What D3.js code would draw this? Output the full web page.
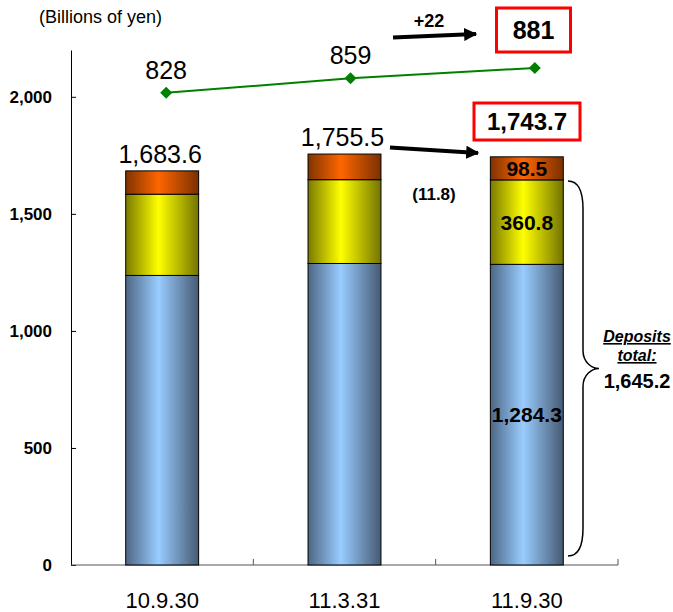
<!DOCTYPE html>
<html><head><meta charset="utf-8">
<script src="https://cdn.jsdelivr.net/npm/d3@7"></script>
<style>body{margin:0;background:#fff;font-family:"Liberation Sans",Arial,sans-serif;}</style>
</head><body>
<svg id="c" width="673" height="612"></svg>
<script>
const categories = ["10.9.30", "11.3.31", "11.9.30"];
const loans      = [1237.0, 1288.0, 1284.3];
const securities = [347.0, 358.0, 360.8];
const others     = [99.6, 109.5, 98.5];
const totals     = ["1,683.6", "1,755.5", "1,743.7"];
const headcount  = [828, 859, 881];
const yTicks     = [0, 500, 1000, 1500, 2000];

(function(){
const svg = d3.select("#c");
const m = {left: 71, top: 50};
const x = d3.scaleBand().domain(categories).range([m.left, 618]).paddingInner(0.6).paddingOuter(0.3);
const y = d3.scaleLinear().domain([0, 2200]).range([565, m.top]);
const y2 = d3.scaleLinear().domain([700, 1000]).range([153, 12]);
const x2 = d3.scalePoint().domain(categories).range([x(categories[0]) + x.bandwidth()/2 + 4, x(categories[2]) + x.bandwidth()/2 + 8]);

// gradients
const defs = svg.append("defs");
function grad(id, edgeL, mid, edgeR){
  const g = defs.append("linearGradient").attr("id", id).attr("x1","0%").attr("x2","100%").attr("y1","0%").attr("y2","0%");
  g.append("stop").attr("offset","0%").attr("stop-color", edgeL);
  g.append("stop").attr("offset","45%").attr("stop-color", mid);
  g.append("stop").attr("offset","100%").attr("stop-color", edgeR);
}
grad("gBlue", "#4d6785", "#99ccff", "#465a73");
grad("gYel", "#7a7a00", "#ffff00", "#737300");
grad("gOra", "#803300", "#ff6600", "#7a3000");
defs.append("marker").attr("id","arr").attr("viewBox","0 0 10 10").attr("refX",9).attr("refY",5)
  .attr("markerWidth",3.3).attr("markerHeight",3.3).attr("orient","auto")
  .append("path").attr("d","M0,0L10,5L0,10z").attr("fill","#000");

// Y axis
const yAxis = d3.axisLeft(y).tickValues(yTicks).tickSizeInner(-5).tickSizeOuter(0).tickPadding(19)
  .tickFormat(d3.format(","));
const ga = svg.append("g").attr("transform", `translate(${m.left},0)`).call(yAxis);
ga.select(".domain").attr("stroke","#000");
ga.selectAll(".tick line").attr("stroke","#000");
ga.selectAll("text").attr("font-family","Liberation Sans, Arial").attr("font-size",17).attr("font-weight","bold").attr("fill","#000");

// X baseline with boundary ticks
const xBase = svg.append("g");
xBase.append("line").attr("x1", m.left).attr("x2", 618).attr("y1", y(0)).attr("y2", y(0)).attr("stroke","#555").attr("stroke-width",1.2);
const bounds = d3.range(categories.length + 1).map(i => m.left + i * (618 - m.left) / categories.length);
xBase.selectAll("line.tk").data(bounds.slice(1)).join("line").attr("class","tk")
  .attr("x1", d => d).attr("x2", d => d).attr("y1", y(0)).attr("y2", y(0) - 6).attr("stroke","#555");
const xAxis = d3.axisBottom(x).tickSize(0).tickPadding(27);
const gx = svg.append("g").attr("transform", `translate(0,${y(0)})`).call(xAxis);
gx.select(".domain").remove();
gx.selectAll("text").attr("font-family","Liberation Sans, Arial").attr("font-size",22).attr("fill","#000");

// stacked bars
const series = [
  {key:"loans", vals: loans, fill:"url(#gBlue)"},
  {key:"sec", vals: securities, fill:"url(#gYel)"},
  {key:"oth", vals: others, fill:"url(#gOra)"}
];
categories.forEach((c, i) => {
  let base = 0;
  series.forEach(s => {
    const v = s.vals[i];
    svg.append("rect").attr("x", x(c)).attr("width", x.bandwidth())
      .attr("y", y(base + v)).attr("height", y(base) - y(base + v))
      .attr("fill", s.fill).attr("stroke", "#000").attr("stroke-width", 1);
    if (i === 2) {
      svg.append("text").attr("x", x(c) + x.bandwidth()/2).attr("y", (y(base) + y(base+v))/2)
        .attr("dy", "0.36em").attr("text-anchor","middle").attr("font-size",21).attr("font-weight","bold")
        .text(d3.format(",.1f")(v));
    }
    base += v;
  });
  if (i < 2) {
    svg.append("text").attr("x", x(c) + x.bandwidth()/2 - 2).attr("y", y(base) - 8)
      .attr("text-anchor","middle").attr("font-size",25).text(totals[i]);
  }
});

// green line
const line = d3.line().x((d,i) => x2(categories[i])).y(d => y2(d));
svg.append("path").datum(headcount).attr("d", line).attr("fill","none").attr("stroke","#008000").attr("stroke-width",2);
svg.selectAll("path.dm").data(headcount).join("path").attr("class","dm")
  .attr("d", d3.symbol().type(d3.symbolSquare).size(72))
  .attr("transform", (d,i) => `translate(${x2(categories[i])},${y2(d)}) rotate(45)`)
  .attr("fill","#008000");
headcount.slice(0,2).forEach((d,i) => {
  svg.append("text").attr("x", x2(categories[i])).attr("y", y2(d) - 14)
    .attr("text-anchor","middle").attr("font-size",25).text(d);
});

// title
svg.append("text").attr("x", 39).attr("y", 23).attr("font-size",18).text("(Billions of yen)");

// boxed highlights
function box(cx, cy, w, h, txt, fs){
  svg.append("rect").attr("x", cx - w/2).attr("y", cy - h/2).attr("width", w).attr("height", h)
    .attr("fill","#fff").attr("stroke","#ff0000").attr("stroke-width",3);
  svg.append("text").attr("x", cx).attr("y", cy).attr("dy","0.36em").attr("text-anchor","middle")
    .attr("font-size", fs).attr("font-weight","bold").text(txt);
}
box(533.5, 30, 74, 44, String(headcount[2]), 25);
box(527, 121.5, 106, 37, totals[2], 24);

// arrows
svg.append("line").attr("x1",393).attr("y1",37.5).attr("x2",476).attr("y2",34).attr("stroke","#000").attr("stroke-width",4).attr("marker-end","url(#arr)");
svg.append("text").attr("x",429).attr("y",27).attr("text-anchor","middle").attr("font-size",18).attr("font-weight","bold").text("+" + (headcount[2]-headcount[1]));
svg.append("line").attr("x1",390).attr("y1",147.5).attr("x2",478).attr("y2",153).attr("stroke","#000").attr("stroke-width",4).attr("marker-end","url(#arr)");
svg.append("text").attr("x",434).attr("y",194).attr("dy","0.36em").attr("text-anchor","middle").attr("font-size",17).attr("font-weight","bold").text("(11.8)");

// brace
const bx = 568, bTop = y(loans[2] + securities[2]) + 1, bBot = y(0) - 9, mid = (bTop + bBot)/2;
svg.append("path").attr("fill","none").attr("stroke","#000").attr("stroke-width",1.5)
  .attr("d", `M${bx},${bTop} C${bx+12},${bTop} ${bx+15},${bTop+12} ${bx+15},${bTop+28} L${bx+15},${mid-18} C${bx+15},${mid-6} ${bx+24},${mid} ${bx+31},${mid} C${bx+24},${mid} ${bx+15},${mid+6} ${bx+15},${mid+18} L${bx+15},${bBot-28} C${bx+15},${bBot-12} ${bx+12},${bBot} ${bx},${bBot}`);
svg.append("text").attr("x",637).attr("y",342).attr("text-anchor","middle").attr("font-size",16).attr("font-weight","bold").attr("font-style","italic").attr("text-decoration","underline").text("Deposits");
svg.append("text").attr("x",637).attr("y",361).attr("text-anchor","middle").attr("font-size",16).attr("font-weight","bold").attr("font-style","italic").attr("text-decoration","underline").text("total:");
svg.append("text").attr("x",637).attr("y",388).attr("text-anchor","middle").attr("font-size",20).attr("font-weight","bold").text(d3.format(",.1f")(loans[2] + securities[2] + 0.1));
})();
</script>
</body></html>
